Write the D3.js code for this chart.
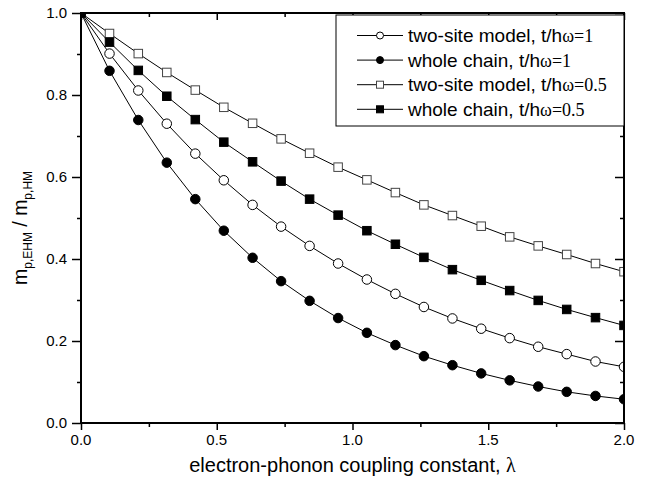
<!DOCTYPE html>
<html lang="en">
<head>
	<meta charset="utf-8">
	<title>Polaron mass ratio</title>
	<script type="text/javascript" src="https://cdn.jsdelivr.net/npm/d3@7"></script>
	<style>
	body { margin: 0; background: white; }
	svg { font-family: "Liberation Sans", Arial, sans-serif; }
	.sym { font-family: "Liberation Serif", "Times New Roman", serif; }
	</style>
</head>
<body>
<div id="chart"></div>
<script type="text/javascript">

// coupling constant values (20 points, 0..2)
var lambdas = [0, 0.105, 0.211, 0.316, 0.421, 0.526, 0.632, 0.737, 0.842, 0.947,
	1.053, 1.158, 1.263, 1.368, 1.474, 1.579, 1.684, 1.789, 1.895, 2.0]

var twoSite1 = [1.0, 0.901, 0.811, 0.730, 0.657, 0.592, 0.532, 0.479, 0.432, 0.389,
	0.350, 0.315, 0.283, 0.255, 0.230, 0.207, 0.186, 0.168, 0.150, 0.137]
var chain1 = [1.0, 0.859, 0.739, 0.635, 0.546, 0.469, 0.403, 0.346, 0.298, 0.256,
	0.220, 0.190, 0.163, 0.141, 0.121, 0.104, 0.089, 0.076, 0.066, 0.058]
var twoSite05 = [1.0, 0.950, 0.901, 0.855, 0.812, 0.770, 0.731, 0.693, 0.658, 0.624,
	0.593, 0.562, 0.532, 0.506, 0.480, 0.454, 0.432, 0.411, 0.389, 0.369]
var chain05 = [1.0, 0.929, 0.860, 0.797, 0.740, 0.685, 0.637, 0.590, 0.546, 0.507,
	0.469, 0.436, 0.404, 0.374, 0.348, 0.323, 0.299, 0.277, 0.257, 0.238]

var seriesNames = ["two-site model, t/h", "whole chain, t/h", "two-site model, t/h", "whole chain, t/h"]
var seriesSuffix = ["\u03c9=1", "\u03c9=1", "\u03c9=0.5", "\u03c9=0.5"]

var xTicks = [0, 0.5, 1.0, 1.5, 2.0]
var yTicks = [0, 0.2, 0.4, 0.6, 0.8, 1.0]

var W = 651, H = 489
var m = {left: 81, right: 27, top: 13, bottom: 66}

var series = [
	{name: seriesNames[0], suf: seriesSuffix[0], vals: twoSite1, shape: "circle", fill: "white"},
	{name: seriesNames[1], suf: seriesSuffix[1], vals: chain1, shape: "circle", fill: "black"},
	{name: seriesNames[2], suf: seriesSuffix[2], vals: twoSite05, shape: "square", fill: "white"},
	{name: seriesNames[3], suf: seriesSuffix[3], vals: chain05, shape: "square", fill: "black"}
]

var svg = d3.select("#chart").append("svg").attr("width", W).attr("height", H)

var x = d3.scaleLinear().domain([0, 2]).range([m.left, W - m.right])
var y = d3.scaleLinear().domain([0, 1]).range([H - m.bottom, m.top])

svg.append("clipPath").attr("id", "clip")
	.append("rect")
	.attr("x", x(0)).attr("y", y(1))
	.attr("width", x(2) - x(0)).attr("height", y(0) - y(1))

var plot = svg.append("g").attr("clip-path", "url(#clip)")

var line = d3.line().x(function(d) { return x(d[0]) }).y(function(d) { return y(d[1]) })

function drawMarker(g, shape, fill, cx, cy, size) {
	if (shape == "circle") {
		g.append("circle").attr("cx", cx).attr("cy", cy).attr("r", size / 2)
			.attr("fill", fill).attr("stroke", "black").attr("stroke-width", 1)
	} else {
		g.append("rect").attr("x", cx - size / 2).attr("y", cy - size / 2)
			.attr("width", size).attr("height", size)
			.attr("fill", fill).attr("stroke", fill == "white" ? "#444" : "black").attr("stroke-width", 1)
	}
}

series.forEach(function(s) {
	var pts = lambdas.map(function(l, i) { return [l, s.vals[i]] })
	plot.append("path").datum(pts).attr("d", line)
		.attr("fill", "none").attr("stroke", "black").attr("stroke-width", 1)
})
series.forEach(function(s) {
	var g = plot.append("g")
	lambdas.forEach(function(l, i) {
		drawMarker(g, s.shape, s.fill, x(l), y(s.vals[i]), s.shape == "circle" ? 9.5 : 8.5)
	})
})

// axes
var minorX = d3.range(0, 2.01, 0.25)
var minorY = d3.range(0, 1.01, 0.1)
function isMajor(list) {
	return function(d) { return list.some(function(t) { return Math.abs(t - d) < 1e-6 }) }
}

var axBottom = svg.append("g").attr("transform", "translate(0," + y(0) + ")")
	.call(d3.axisBottom(x).tickValues(minorX).tickSize(4).tickFormat(""))
axBottom.selectAll(".tick line").filter(isMajor(xTicks)).attr("y2", 7)
axBottom.selectAll("text.lab").data(xTicks).enter().append("text").attr("class", "lab")
	.attr("x", function(d) { return x(d) }).attr("y", 22)
	.attr("text-anchor", "middle").attr("font-size", 15).attr("fill", "black")
	.text(function(d) { return d3.format(".1f")(d) })

var axLeft = svg.append("g").attr("transform", "translate(" + x(0) + ",0)")
	.call(d3.axisLeft(y).tickValues(minorY).tickSize(4).tickFormat(""))
axLeft.selectAll(".tick line").filter(isMajor(yTicks)).attr("x2", -9)
axLeft.selectAll("text.lab").data(yTicks).enter().append("text").attr("class", "lab")
	.attr("x", -14).attr("y", function(d) { return y(d) }).attr("dy", "0.36em")
	.attr("text-anchor", "end").attr("font-size", 15).attr("fill", "black")
	.text(function(d) { return d3.format(".1f")(d) })

var axTop = svg.append("g").attr("transform", "translate(0," + y(1) + ")")
	.call(d3.axisBottom(x).tickValues(minorX).tickSize(4).tickFormat(""))
axTop.selectAll(".tick line").filter(isMajor(xTicks)).attr("y2", 7)

var axRight = svg.append("g").attr("transform", "translate(" + x(2) + ",0)")
	.call(d3.axisLeft(y).tickValues(minorY).tickSize(4).tickFormat(""))
axRight.selectAll(".tick line").filter(isMajor(yTicks)).attr("x2", -9)

svg.selectAll(".domain").remove()
svg.selectAll(".tick line").attr("stroke", "black").attr("stroke-width", 1.5)
svg.append("rect").attr("x", x(0)).attr("y", y(1))
	.attr("width", x(2) - x(0)).attr("height", y(0) - y(1))
	.attr("fill", "none").attr("stroke", "black").attr("stroke-width", 2)

// axis titles
svg.append("text").attr("x", (x(0) + x(2)) / 2).attr("y", 472)
	.attr("text-anchor", "middle").attr("font-size", 20)
	.text("electron-phonon coupling constant, ")
	.append("tspan").attr("class", "sym").text("\u03bb")

var yl = svg.append("text").attr("transform", "translate(27," + 228 + ") rotate(-90)")
	.attr("text-anchor", "middle").attr("font-size", 19.5)
yl.append("tspan").text("m")
yl.append("tspan").attr("font-size", 12).attr("dy", 5).text("p,EHM")
yl.append("tspan").attr("dy", -5).text(" / m")
yl.append("tspan").attr("font-size", 12).attr("dy", 5).text("p,HM")

// legend
var lg = svg.append("g")
lg.append("rect").attr("x", 336).attr("y", 15).attr("width", 288).attr("height", 111)
	.attr("fill", "white").attr("stroke", "black").attr("stroke-width", 1)
series.forEach(function(s, i) {
	var cy = 35.5 + i * 24.6
	lg.append("line").attr("x1", 357).attr("x2", 403).attr("y1", cy).attr("y2", cy)
		.attr("stroke", "black").attr("stroke-width", 1)
	drawMarker(lg, s.shape, s.fill, 380, cy, 7)
	var t = lg.append("text").attr("x", 408).attr("y", cy).attr("dy", "0.35em").attr("font-size", 19)
	t.append("tspan").text(s.name)
	t.append("tspan").attr("class", "sym").attr("font-size", 18).text(s.suf)
})

</script>
</body>
</html>
